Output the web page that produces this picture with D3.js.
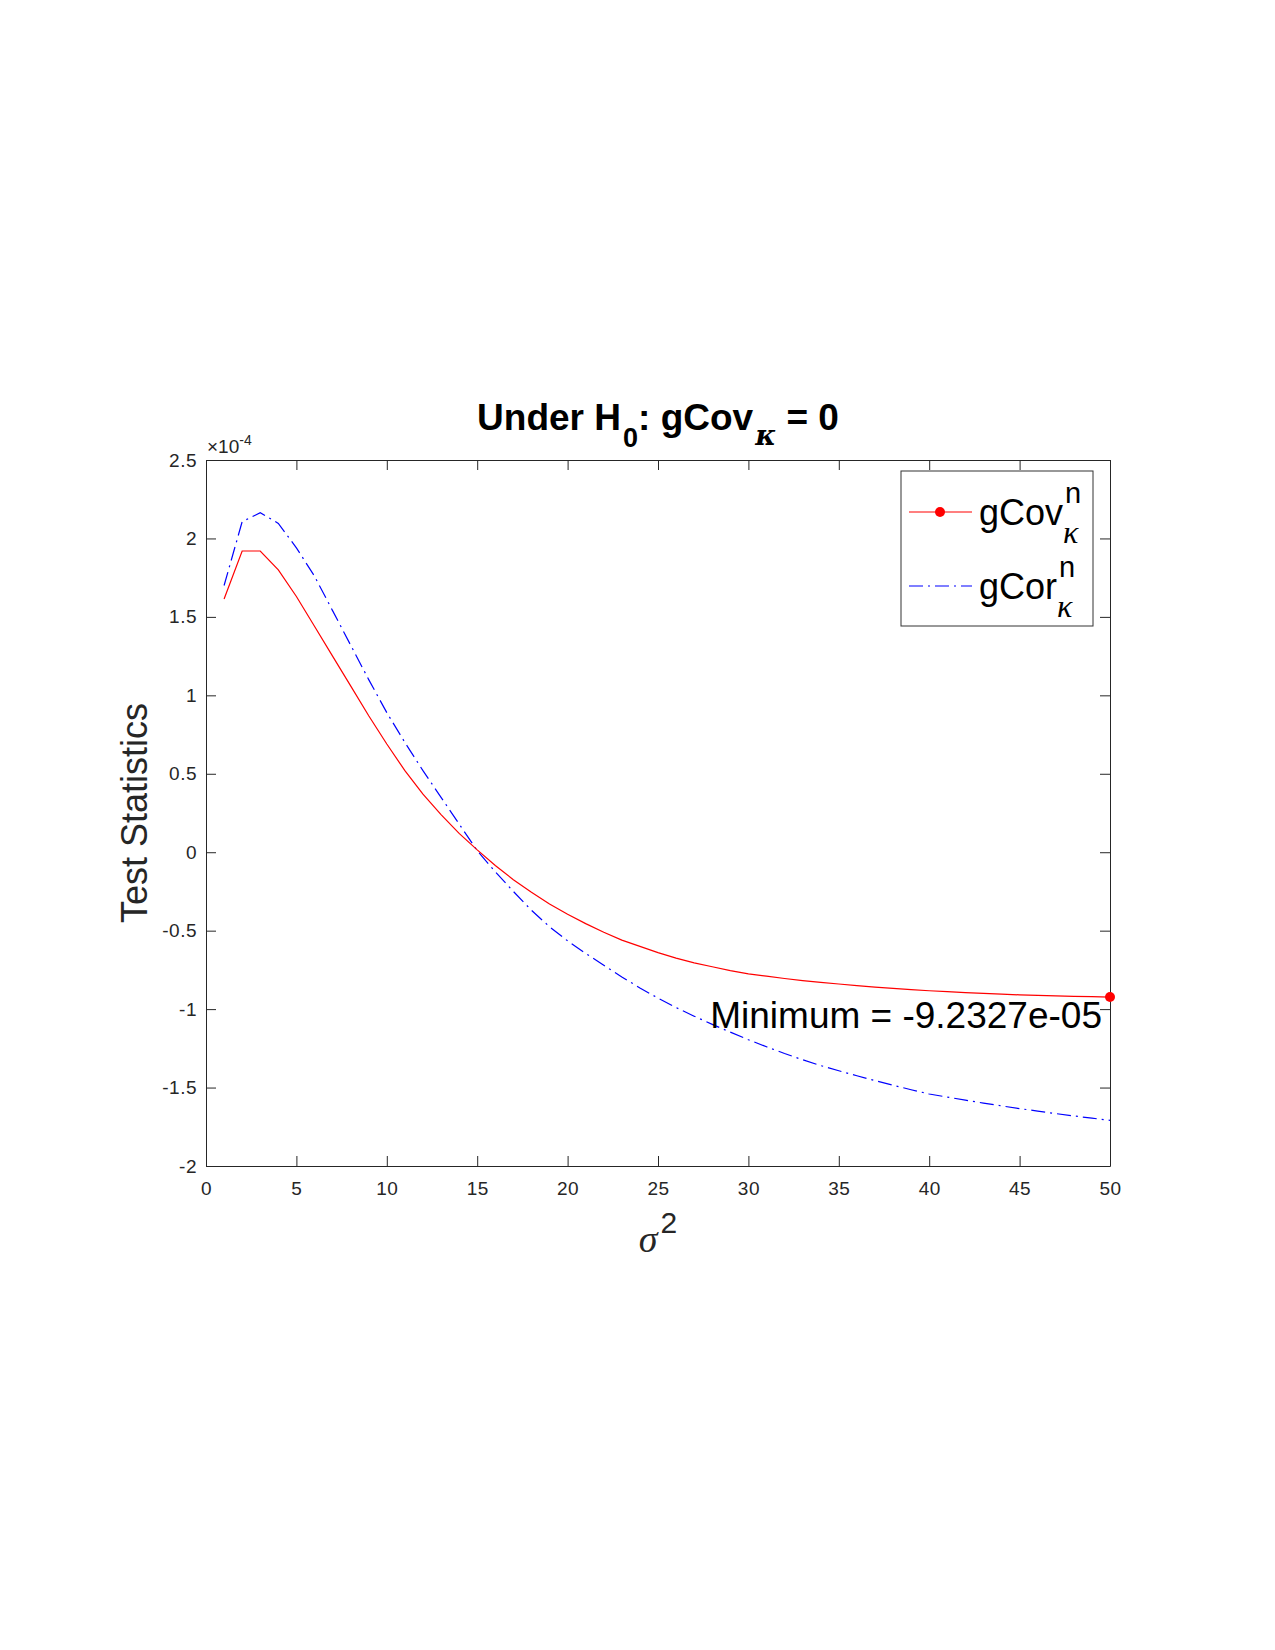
<!DOCTYPE html>
<meta charset="utf-8">
<style>

body {
  margin: 0;
  background: #fff;
}

text {
  font-family: "Liberation Sans", Arial, sans-serif;
  fill: #000;
}

.axis path,
.axis line {
  stroke: #262626;
  stroke-width: 1;
}

.axis text {
  fill: #262626;
  font-size: 19px;
  letter-spacing: 0.5px;
  font-family: "Liberation Sans", Arial, sans-serif;
}

.title {
  font-size: 37px;
  font-weight: bold;
}

.cov {
  fill: none;
  stroke: #ff0000;
  stroke-width: 1.2;
}

.cor {
  fill: none;
  stroke: #0000ff;
  stroke-width: 1.2;
  stroke-dasharray: 14,5,2,5;
}

.legend-box {
  fill: #fff;
  stroke: #333;
  stroke-width: 1;
}

</style>
<svg width="1275" height="1650"></svg>
<script src="https://d3js.org/d3.v7.min.js"></script>
<script>

// sigma^2 values
var sigma2 = d3.range(1, 51);

// test statistics, in units of 1e-4
var gCov = [1.614, 1.92, 1.92, 1.80, 1.63, 1.44, 1.25, 1.06, 0.87, 0.69,
            0.52, 0.37, 0.24, 0.12, 0.015, -0.085, -0.175, -0.255, -0.33, -0.395,
            -0.455, -0.51, -0.56, -0.60, -0.64, -0.675, -0.705, -0.73, -0.755, -0.775,
            -0.79, -0.805, -0.818, -0.83, -0.84, -0.85, -0.86, -0.868, -0.876, -0.883,
            -0.889, -0.895, -0.90, -0.905, -0.909, -0.913, -0.916, -0.919, -0.921, -0.92327];

var gCor = [1.70, 2.107, 2.164, 2.096, 1.94, 1.76, 1.54, 1.32, 1.10, 0.89,
            0.70, 0.52, 0.35, 0.18, 0.01, -0.125, -0.25, -0.37, -0.475, -0.565,
            -0.645, -0.72, -0.795, -0.865, -0.93, -0.99, -1.045, -1.097, -1.147, -1.195,
            -1.24, -1.283, -1.323, -1.36, -1.393, -1.425, -1.456, -1.485, -1.514, -1.541,
            -1.561, -1.580, -1.599, -1.617, -1.634, -1.650, -1.666, -1.681, -1.695, -1.709];

var xTicks = [0, 5, 10, 15, 20, 25, 30, 35, 40, 45, 50],
    yTicks = [-2, -1.5, -1, -0.5, 0, 0.5, 1, 1.5, 2, 2.5];

var svg = d3.select("svg"),
    margin = {top: 460, left: 206},
    width = 904,
    height = 706;

svg.append("rect")
    .attr("width", 1275)
    .attr("height", 1650)
    .attr("fill", "#fff");

var x = d3.scaleLinear().domain([0, 50]).range([0, width]),
    y = d3.scaleLinear().domain([-2, 2.5]).range([height, 0]);

var g = svg.append("g")
    .attr("transform", "translate(" + margin.left + "," + margin.top + ")");

var fmt = function(d) { return String(d); };

g.append("g")
    .attr("class", "axis")
    .attr("transform", "translate(0," + height + ")")
    .call(d3.axisBottom(x).tickValues(xTicks).tickFormat(fmt).tickSizeInner(-10).tickSizeOuter(0).tickPadding(16));

g.append("g")
    .attr("class", "axis")
    .call(d3.axisTop(x).tickValues(xTicks).tickFormat("").tickSizeInner(-10).tickSizeOuter(0));

g.append("g")
    .attr("class", "axis")
    .call(d3.axisLeft(y).tickValues(yTicks).tickFormat(fmt).tickSizeInner(-10).tickSizeOuter(0).tickPadding(9));

g.append("g")
    .attr("class", "axis")
    .attr("transform", "translate(" + width + ",0)")
    .call(d3.axisRight(y).tickValues(yTicks).tickFormat("").tickSizeInner(-10).tickSizeOuter(0));

// exponent label
var expo = g.append("text")
    .attr("x", 1)
    .attr("y", -7)
    .style("font-size", "19px")
    .style("fill", "#262626");
expo.append("tspan").text("\u00d710");
expo.append("tspan").attr("dy", -8).style("font-size", "14px").text("-4");

var line = d3.line()
    .x(function(d, i) { return x(sigma2[i]); })
    .y(function(d) { return y(d); });

g.append("path").datum(gCor).attr("class", "cor").attr("d", line);
g.append("path").datum(gCov).attr("class", "cov").attr("d", line);

// minimum marker
var minVal = d3.min(gCov),
    minIdx = gCov.indexOf(minVal);

function sci(v) {
  var s = (v * 1e-4).toExponential(4).split("e"),
      e = +s[1];
  return s[0] + "e" + (e < 0 ? "-" : "+") + (Math.abs(e) < 10 ? "0" : "") + Math.abs(e);
}

g.append("circle")
    .attr("cx", x(sigma2[minIdx]))
    .attr("cy", y(minVal))
    .attr("r", 5)
    .attr("fill", "#ff0000");

g.append("text")
    .attr("x", x(sigma2[minIdx]) - 8)
    .attr("y", y(minVal) + 31)
    .attr("text-anchor", "end")
    .style("font-size", "37px")
    .text("Minimum = " + sci(minVal));

// title
var title = svg.append("text")
    .attr("class", "title")
    .attr("x", margin.left + width / 2)
    .attr("y", 430)
    .attr("text-anchor", "middle");
title.append("tspan").text("Under H");
title.append("tspan").attr("dx", 2).attr("dy", 17).style("font-size", "27px").text("0");
title.append("tspan").attr("dy", -17).text(": gCov");
title.append("tspan").attr("dx", 2).attr("dy", 15).style("font-size", "28px").style("font-style", "italic").style("font-family", "'DejaVu Serif', serif").text("\u03ba");
title.append("tspan").attr("dy", -15).text(" = 0");

// axis labels
svg.append("text")
    .attr("transform", "translate(147," + (margin.top + height / 2) + ") rotate(-90)")
    .attr("text-anchor", "middle")
    .style("font-size", "36px")
    .style("fill", "#262626")
    .text("Test Statistics");

var xl = svg.append("text")
    .attr("x", margin.left + width / 2)
    .attr("y", 1252)
    .attr("text-anchor", "middle")
    .style("fill", "#262626");
xl.append("tspan").style("font-family", "'Liberation Serif', serif").style("font-style", "italic").style("font-size", "38px").text("\u03c3");
xl.append("tspan").attr("dx", 3).attr("dy", -19).style("font-size", "30px").text("2");

// legend
var legend = svg.append("g");
legend.append("rect")
    .attr("class", "legend-box")
    .attr("x", 901).attr("y", 471)
    .attr("width", 192).attr("height", 155);

var entries = [
  {name: "gCov", cls: "cov", y: 512, marker: true},
  {name: "gCor", cls: "cor", y: 586, marker: false}
];

entries.forEach(function(e) {
  legend.append("line")
      .attr("class", e.cls)
      .attr("x1", 909).attr("x2", 972)
      .attr("y1", e.y).attr("y2", e.y);
  if (e.marker) {
    legend.append("circle")
        .attr("cx", 940).attr("cy", e.y).attr("r", 5)
        .attr("fill", "#ff0000");
  }
  var t = legend.append("text")
      .attr("x", 979)
      .attr("y", e.y + 13)
      .style("font-size", "36px")
      .text(e.name);
  var w = t.node().getComputedTextLength();
  legend.append("text")
      .attr("x", 979 + w + 2)
      .attr("y", e.y - 9)
      .style("font-size", "29px")
      .text("n");
  legend.append("text")
      .attr("x", 979 + w)
      .attr("y", e.y + 31)
      .style("font-size", "32px")
      .style("font-family", "'Liberation Serif', serif")
      .style("font-style", "italic")
      .text("\u03ba");
});

</script>
